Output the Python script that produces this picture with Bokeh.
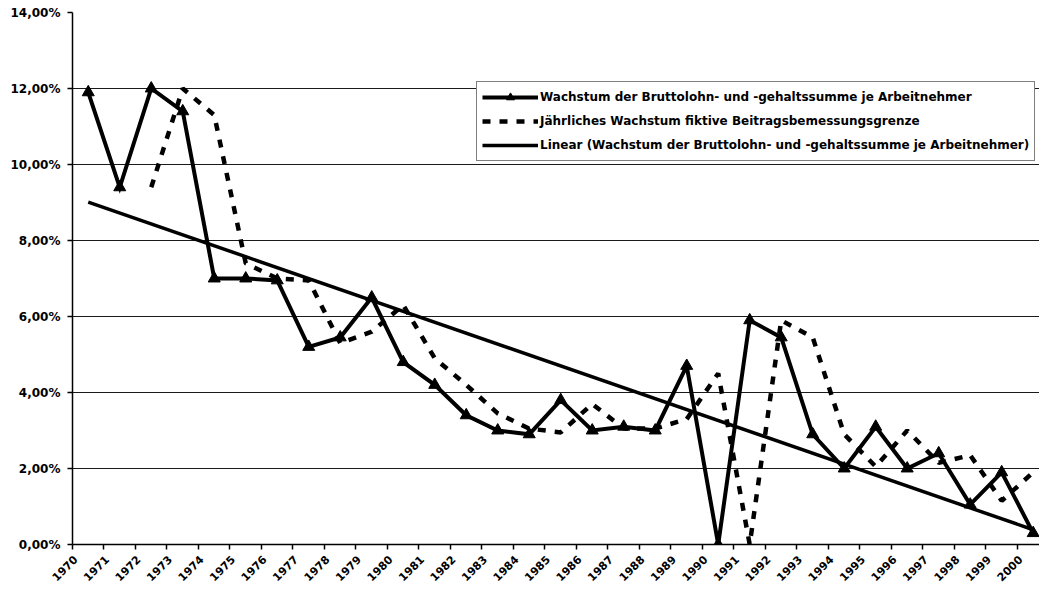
import math
import numpy as np
from bokeh.plotting import figure
from bokeh.models import FixedTicker, Range1d, Legend, LegendItem
from bokeh.embed import file_html
from bokeh.resources import INLINE

# ---- data -------------------------------------------------------------
years = [str(y) for y in range(1970, 2001)]

# Wachstum der Bruttolohn- und -gehaltssumme je Arbeitnehmer (%)
lohn = [11.9, 9.4, 12.0, 11.4, 7.0, 7.0, 6.95, 5.2, 5.45, 6.5,
        4.8, 4.2, 3.4, 3.0, 2.9, 3.8, 3.0, 3.1, 3.0, 4.7,
        0.0, 5.9, 5.45, 2.9, 2.0, 3.1, 2.0, 2.4, 1.05, 1.9, 0.3]

# Jährliches Wachstum fiktive Beitragsbemessungsgrenze (%), from 1972
bbg_years = years[2:]
bbg = [9.4, 12.0, 11.3, 7.4, 7.0, 6.95, 5.3, 5.6, 6.3, 4.9,
       4.2, 3.45, 3.05, 2.95, 3.7, 3.05, 3.05, 3.3, 4.5, 0.0,
       5.9, 5.45, 2.9, 2.05, 3.0, 2.15, 2.35, 1.15, 1.9]

y_ticks = [0, 2, 4, 6, 8, 10, 12, 14]
y_tick_labels = ["0,00%", "2,00%", "4,00%", "6,00%", "8,00%",
                 "10,00%", "12,00%", "14,00%"]

label_lohn = "Wachstum der Bruttolohn- und -gehaltssumme je Arbeitnehmer"
label_bbg = "Jährliches Wachstum fiktive Beitragsbemessungsgrenze"
label_lin = "Linear (Wachstum der Bruttolohn- und -gehaltssumme je Arbeitnehmer)"

# ---- positions from categories -------------------------------------
x_lohn = [years.index(y) for y in years]
x_bbg = [years.index(y) for y in bbg_years]
coef = np.polyfit(x_lohn, lohn, 1)
x_lin = [x_lohn[0], x_lohn[-1]]
y_lin = [float(np.polyval(coef, v)) for v in x_lin]

FONT = "DejaVu Sans"

p = figure(width=1039, height=587, output_backend="svg", toolbar_location=None,
           x_range=Range1d(-0.5, len(years) - 0.8), y_range=Range1d(0, 14),
           min_border_left=72, min_border_right=0, min_border_top=12,
           min_border_bottom=40, background_fill_color="white",
           border_fill_color="white", outline_line_color=None)

# grid
p.xgrid.visible = False
p.ygrid.ticker = FixedTicker(ticks=y_ticks)
p.ygrid.grid_line_color = "#1a1a1a"
p.ygrid.grid_line_width = 1.2

# y axis
p.yaxis.ticker = FixedTicker(ticks=y_ticks)
p.yaxis.major_label_overrides = {t: l for t, l in zip(y_ticks, y_tick_labels)}
p.yaxis.axis_line_color = "black"
p.yaxis.axis_line_width = 1.5
p.yaxis.major_tick_out = 5
p.yaxis.major_tick_in = 0
p.yaxis.major_tick_line_color = "black"
p.yaxis.major_tick_line_width = 1.5
p.yaxis.minor_tick_line_color = None
p.yaxis.major_label_text_font = FONT
p.yaxis.major_label_text_font_style = "bold"
p.yaxis.major_label_text_font_size = "12px"
p.yaxis.major_label_text_color = "black"
p.yaxis.major_label_standoff = 7

# x axis: labels hang left of the category centre, ticks at boundaries
label_pos = [v - 0.4 for v in x_lohn]
p.xaxis.ticker = FixedTicker(ticks=label_pos,
                             minor_ticks=[v - 0.5 for v in x_lohn] + [x_lohn[-1] + 0.5])
p.xaxis.major_label_overrides = {t: y for t, y in zip(label_pos, years)}
p.xaxis.major_label_orientation = math.pi / 4
p.xaxis.axis_line_color = "black"
p.xaxis.axis_line_width = 1.5
p.xaxis.major_tick_line_color = None
p.xaxis.major_tick_out = 4
p.xaxis.major_tick_in = 0
p.xaxis.minor_tick_line_color = "black"
p.xaxis.minor_tick_line_width = 1.5
p.xaxis.minor_tick_out = 5
p.xaxis.minor_tick_in = 0
p.xaxis.major_label_text_font = FONT
p.xaxis.major_label_text_font_style = "bold"
p.xaxis.major_label_text_font_size = "11px"
p.xaxis.major_label_text_color = "black"
p.xaxis.major_label_standoff = 8

# series
r_bbg = p.line(x_bbg, bbg, line_color="black", line_width=4.5,
               line_dash="8 9", line_cap="butt")
r_lin = p.line(x_lin, y_lin, line_color="black", line_width=3.5)
r_lohn = p.line(x_lohn, lohn, line_color="black", line_width=4, line_join="miter")
r_mark = p.scatter(x_lohn, lohn, marker="triangle", size=12,
                   fill_color="black", line_color="black")

legend = Legend(items=[
    LegendItem(label=label_lohn, renderers=[r_lohn, r_mark]),
    LegendItem(label=label_bbg, renderers=[r_bbg]),
    LegendItem(label=label_lin, renderers=[r_lin]),
], location=(404, 383))
legend.border_line_color = "black"
legend.border_line_width = 1.2
legend.background_fill_color = "white"
legend.background_fill_alpha = 1
legend.label_text_font = FONT
legend.label_text_font_style = "bold"
legend.label_text_font_size = "12px"
legend.label_text_color = "black"
legend.glyph_width = 56
legend.glyph_height = 20
legend.label_height = 20
legend.spacing = 4
legend.padding = 5
legend.margin = 0
legend.label_standoff = 2
p.add_layout(legend)

open("out.html", "w").write(file_html(p, INLINE))
